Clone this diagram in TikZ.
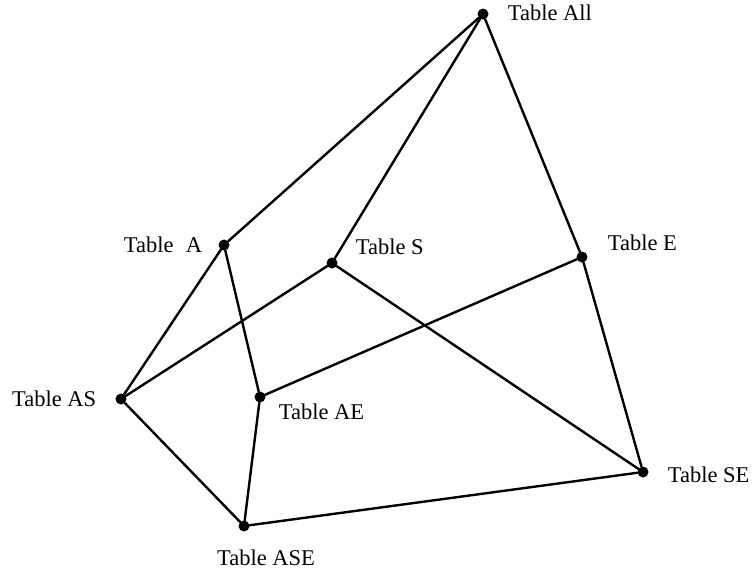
\documentclass[tikz,border=0pt]{standalone}
\usepackage{fontspec}
\setmainfont{Liberation Serif}
\usepackage{tikz}
\usetikzlibrary{positioning}
\tikzset{
  table/.style={circle,fill=black,inner sep=0pt,minimum size=11pt},
  lbl/.style={inner sep=0pt,font=\fontsize{22.5}{27}\selectfont},
  link/.style={line width=2.4pt,line join=round,line cap=round}
}

\begin{document}
\begin{tikzpicture}[x=1pt,y=-1pt]
  \useasboundingbox (0,0) rectangle (752,571);
  % the tables of the lattice
  \foreach \name/\x/\y in {All/483/14, A/224/245, S/332/263, E/582/257,
      AS/121/399, AE/260/397, ASE/244/526, SE/643/472}
    \node[table] (\name) at (\x,\y) {};
  % links between them
  \draw[link] (All) -- (A);
  \draw[link] (All) -- (S);
  \draw[link] (All) -- (E);
  \draw[link] (A) -- (AS);
  \draw[link] (A) -- (AE);
  \draw[link] (S) -- (AS);
  \draw[link] (S) -- (SE);
  \draw[link] (E) -- (AE);
  \draw[link] (E) -- (SE);
  \draw[link] (AS) -- (ASE);
  \draw[link] (AE) -- (ASE);
  \draw[link] (ASE) -- (SE);
  % names
  \node[lbl,right=19pt of All,yshift=1pt] (lAll) {Table All};
  \node[lbl,left=16pt of A] (lA) {Table\hspace{0.55em}A};
  \node[lbl,right=18pt of S,yshift=16pt] (lS) {Table S};
  \node[lbl,right=20pt of E,yshift=14pt] (lE) {Table E};
  \node[lbl,left=19pt of AS] (lAS) {Table AS};
  \node[lbl,right=13pt of AE,yshift=-15pt] (lAE) {Table AE};
  \node[lbl,below=18pt of ASE,xshift=22pt] (lASE) {Table ASE};
  \node[lbl,right=19pt of SE,yshift=-3pt] (lSE) {Table SE};
\end{tikzpicture}
\end{document}
